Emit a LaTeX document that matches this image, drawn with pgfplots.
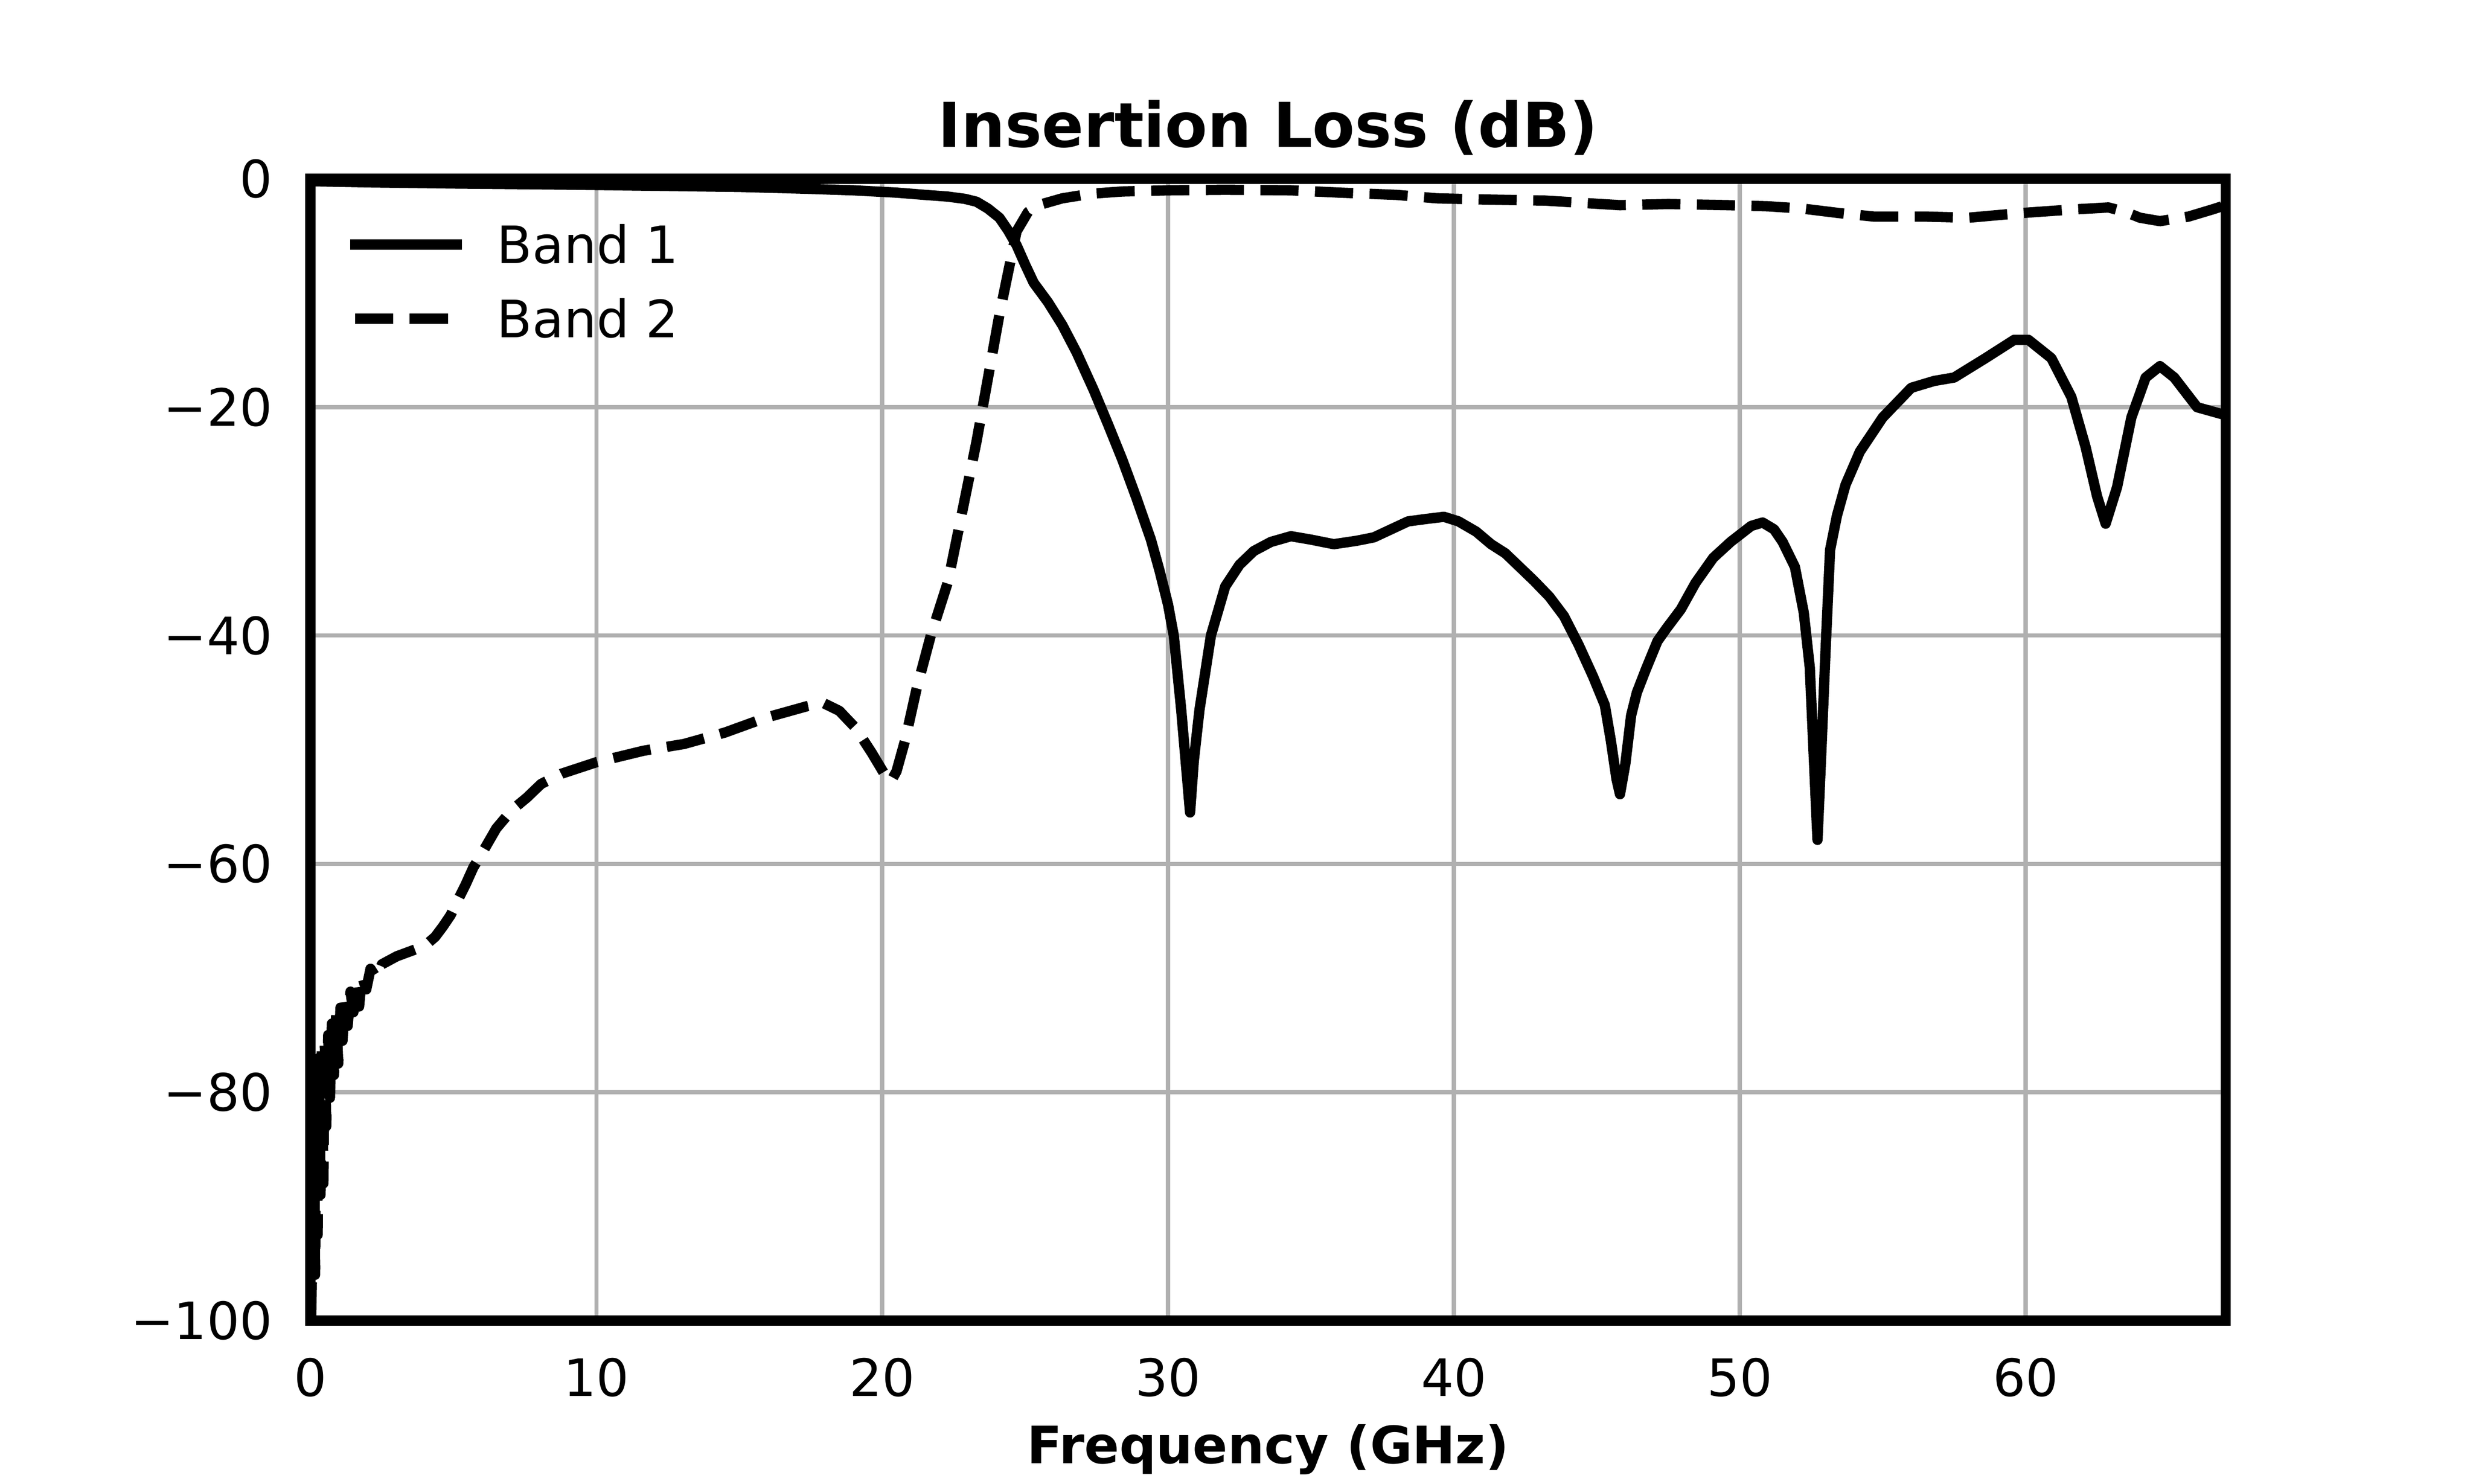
\documentclass[border=0pt]{standalone}
\usepackage{pgfplots}
\pgfplotsset{compat=1.18}
\usepackage{fontspec}
\setmainfont{DejaVu Sans}
\definecolor{gridgray}{HTML}{B0B0B0}
\begin{document}
\begin{tikzpicture}
\useasboundingbox (-90.4pt,-47.5pt) rectangle (629.6pt,384.5pt);
\begin{axis}[
  at={(0pt,0pt)}, anchor=south west,
  scale only axis, width=557.6pt, height=332.4pt,
  xmin=0, xmax=67, ymin=-100, ymax=0,
  xtick={0,10,20,30,40,50,60}, xticklabels={0,10,20,30,40,50,60},
  ytick={-100,-80,-60,-40,-20,0}, yticklabels={−100,−80,−60,−40,−20,0},
  major tick length=0pt,
  grid=major, grid style={gridgray, line width=1.2pt},
  axis line style={draw=none},
  tick label style={font=\fontsize{15}{18}\selectfont},
  xticklabel style={inner sep=0pt, yshift=-10.7pt},
  yticklabel style={inner sep=0pt, xshift=-10.9pt},
  every axis title shift=0pt,
  title={Insertion Loss (dB)},
  title style={font=\bfseries\fontsize{18}{21.6}\selectfont, at={(axis description cs:0.5,1)}, anchor=base, yshift=9.2pt, inner sep=0pt},
  xlabel={Frequency (GHz)},
  xlabel style={font=\bfseries\fontsize{15}{18}\selectfont, at={(axis description cs:0.5,0)}, anchor=base, yshift=-41.7pt, inner sep=0pt},
  clip mode=individual,
  legend cell align=left,
  legend image code/.code={\draw[#1] (0pt,0pt) -- (29.6pt,0pt);},
  legend style={draw=none, fill=none, at={(axis description cs:0,1)}, anchor=north west, xshift=11.5pt, yshift=-13.57pt, inner sep=0pt, outer sep=0pt, row sep=10.6pt, column sep=10.2pt, font=\fontsize{15}{18}\selectfont, nodes={inner sep=0pt, text height=11pt, text depth=0pt}},
]
\addplot[black, line width=3pt, line cap=rect, line join=round] coordinates {
(0,-0.2) (2,-0.3) (5,-0.4) (9,-0.5) (12,-0.6) (15,-0.7) (17.2,-0.85) (19,-1.0)
(20.5,-1.2) (21.5,-1.4) (22.3,-1.55) (22.9,-1.75) (23.3,-2.0) (23.7,-2.6) (24.1,-3.4)
(24.4,-4.5) (24.7,-5.8) (25.0,-7.5) (25.3,-9.1) (25.8,-10.8) (26.3,-12.8) (26.8,-15.2)
(27.4,-18.5) (27.9,-21.5) (28.4,-24.6) (28.9,-28) (29.4,-31.6) (29.7,-34.3) (30.0,-37.3)
(30.2,-40) (30.46,-46.5) (30.65,-52) (30.77,-55.5) (30.9,-51) (31.1,-46.5) (31.5,-40)
(32.0,-35.7) (32.5,-33.8) (33.0,-32.6) (33.6,-31.8) (34.3,-31.3) (35.0,-31.6) (35.8,-32)
(36.6,-31.7) (37.2,-31.4) (38.4,-30.0) (39.0,-29.8) (39.65,-29.6) (40.16,-30.0)
(40.78,-30.9) (41.3,-32.0) (41.8,-32.8) (42.3,-34.0) (42.8,-35.2) (43.34,-36.6)
(43.85,-38.3) (44.36,-40.8) (44.87,-43.6) (45.28,-46.1) (45.49,-49.2) (45.69,-52.6)
(45.81,-53.9) (46.0,-51.2) (46.2,-47.0) (46.4,-45.0) (46.71,-43.0) (47.12,-40.5)
(47.43,-39.4) (47.94,-37.7) (48.45,-35.4) (49.07,-33.2) (49.68,-31.8) (50.4,-30.4)
(50.8,-30.1) (51.2,-30.7) (51.5,-31.8) (51.93,-34.0) (52.24,-38.0) (52.45,-42.8)
(52.6,-51.2) (52.72,-57.9) (52.86,-49.8) (53.0,-41.4) (53.16,-32.5) (53.4,-29.5)
(53.7,-26.8) (54.2,-23.9) (55.0,-20.9) (56.0,-18.3) (56.8,-17.7) (57.5,-17.4) (58.6,-15.7)
(59.6,-14.1) (60.1,-14.1) (60.9,-15.7) (61.6,-19.1) (62.1,-23.5) (62.5,-27.8) (62.8,-30.2)
(63.2,-27) (63.7,-20.9) (64.2,-17.4) (64.7,-16.4) (65.2,-17.4) (66.0,-20) (67.0,-20.7)
};
\addlegendentry{Band 1}
\addplot[black, line width=3pt, dash pattern=on 11.1pt off 4.8pt, line join=round] coordinates {
(0.02,-100) (0.08,-92) (0.12,-80) (0.16,-96) (0.2,-78) (0.25,-92.5) (0.3,-77) (0.35,-89)
(0.4,-76) (0.45,-88) (0.5,-75.5) (0.55,-83) (0.62,-75) (0.68,-80.5) (0.75,-74) (0.82,-78.5)
(0.9,-73.2) (0.97,-77.5) (1.05,-72.6) (1.12,-75.5) (1.2,-72) (1.3,-74.2) (1.4,-71.2)
(1.5,-73) (1.6,-70.6) (1.7,-72.5) (1.8,-69.8) (1.95,-71) (2.1,-69.2) (2.3,-70) (2.5,-68.8)
(3.02,-68.1) (3.56,-67.6) (3.99,-67.2) (4.36,-66.4) (4.63,-65.5) (4.9,-64.5) (5.17,-63.1)
(5.43,-61.8) (5.7,-60.3) (5.97,-59.2) (6.5,-56.9) (7.04,-55.3) (7.57,-54.2) (8.07,-53.0)
(8.79,-52.1) (10,-51.1) (11.64,-50.1) (13.07,-49.5) (14.5,-48.5) (15.93,-47.2)
(17.36,-46.2) (17.93,-45.9) (18.5,-46.6) (19.07,-48.1) (19.64,-50.3) (20.07,-52.1)
(20.3,-52.8) (20.5,-51.9) (20.8,-49.2) (21.2,-44.7) (21.7,-40) (22.3,-35.3) (23.3,-23)
(24.1,-11.9) (24.7,-4.6) (25.1,-2.9) (25.6,-2.2) (26.3,-1.7) (27.3,-1.3) (28.4,-1.1)
(30,-1.0) (32,-0.95) (34.3,-1.0) (36,-1.2) (38,-1.4) (39.4,-1.7) (41,-1.8) (43.2,-1.9)
(44.5,-2.1) (45.8,-2.3) (47.5,-2.2) (49.6,-2.3) (51,-2.4) (52.2,-2.6) (53.5,-3.0)
(54.7,-3.3) (56.5,-3.3) (58,-3.4) (59.8,-3.0) (61.5,-2.7) (62.9,-2.5) (63.5,-2.9)
(64.0,-3.4) (64.7,-3.7) (65.7,-3.3) (66.5,-2.7) (67,-2.3)
};
\addlegendentry{Band 2}
\draw[black, line width=3pt] (rel axis cs:0,0) rectangle (rel axis cs:1,1);
\end{axis}
\end{tikzpicture}
\end{document}
